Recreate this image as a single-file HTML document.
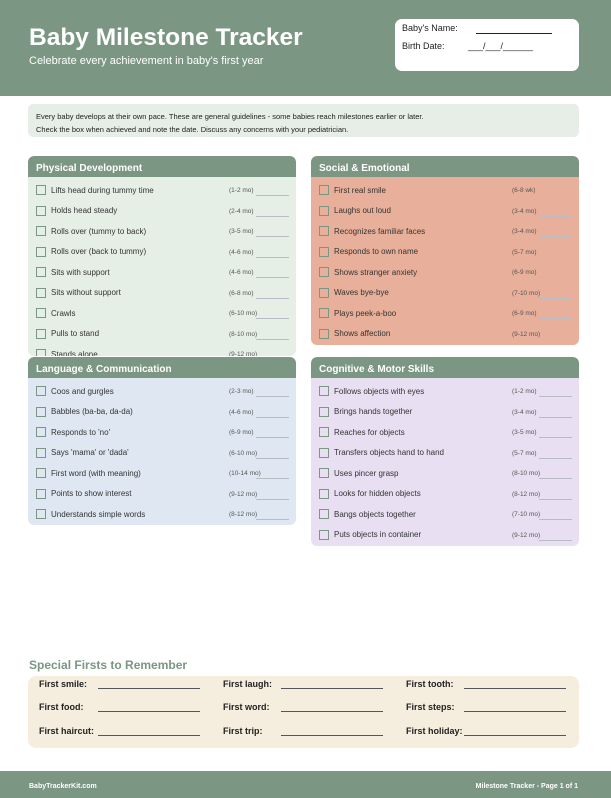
<!DOCTYPE html>
<html><head><meta charset="utf-8"><style>
*{margin:0;padding:0;box-sizing:border-box}
body{width:611px;height:798px;background:#fff;font-family:"Liberation Sans",sans-serif;position:relative;overflow:hidden}
.abs{position:absolute}
.hdr{left:0;top:0;width:611px;height:96px;background:#7b9683}
.title{left:29px;top:24px;color:#fff;font-weight:bold;font-size:24.5px}
.sub{left:29px;top:55px;color:#fff;font-size:11px}
.namebox{left:395px;top:19px;width:184px;height:52px;background:#fff;border-radius:7px;font-size:9px;color:#222}
.info{left:28px;top:104px;width:551px;height:33px;background:#e6eee7;border-radius:5px;font-size:7.5px;color:#222;padding:6px 0 0 8px;line-height:13px}
.sec{position:absolute;width:268px;border-radius:6px;overflow:hidden}
.sh{height:21px;background:#7b9683;color:#fff;font-weight:bold;font-size:10px;padding:6.5px 0 0 8px;border-radius:6px 6px 0 0}
.row{position:relative;height:20.5px;font-size:8px;color:#333}
.cb{position:absolute;left:8px;top:5px;width:10px;height:10px;border:1px solid #7b9683}
.lt{position:absolute;left:23px;top:5.5px}
.ag{position:absolute;left:201px;top:7px;font-size:6.5px;color:#555}
.ln{position:absolute;left:228px;top:15px;width:33px;border-bottom:1px solid #b8bcc4}
.sf{left:28px;top:676px;width:551px;height:72px;background:#f5eedf;border-radius:8px}
.sfl{position:absolute;font-size:9px;font-weight:bold;color:#222}
.sfu{position:absolute;border-bottom:1px solid #555;width:102px}
.ftr{left:0;top:771px;width:611px;height:27px;background:#7b9683;color:#fff;font-size:7px;font-weight:bold}
</style></head><body>
<div class="abs hdr"></div>
<div class="abs title">Baby Milestone Tracker</div>
<div class="abs sub">Celebrate every achievement in baby's first year</div>
<div class="abs namebox">
<div class="abs" style="left:7px;top:4px">Baby's Name:</div>
<div class="abs" style="left:81px;top:14px;width:76px;border-bottom:1px solid #222"></div>
<div class="abs" style="left:7px;top:22px">Birth Date:</div>
<div class="abs" style="left:73px;top:22px">___/___/______</div>
</div>
<div class="abs info">Every baby develops at their own pace. These are general guidelines - some babies reach milestones earlier or later.<br>Check the box when achieved and note the date. Discuss any concerns with your pediatrician.</div>

<div class="sec" style="left:28px;top:156px;height:200px;background:#e6efe6">
<div class="sh">Physical Development</div><div style="height:3px"></div>
<div class="row"><div class="cb"></div><div class="lt">Lifts head during tummy time</div><div class="ag">(1-2 mo)</div><div class="ln"></div></div>
<div class="row"><div class="cb"></div><div class="lt">Holds head steady</div><div class="ag">(2-4 mo)</div><div class="ln"></div></div>
<div class="row"><div class="cb"></div><div class="lt">Rolls over (tummy to back)</div><div class="ag">(3-5 mo)</div><div class="ln"></div></div>
<div class="row"><div class="cb"></div><div class="lt">Rolls over (back to tummy)</div><div class="ag">(4-6 mo)</div><div class="ln"></div></div>
<div class="row"><div class="cb"></div><div class="lt">Sits with support</div><div class="ag">(4-6 mo)</div><div class="ln"></div></div>
<div class="row"><div class="cb"></div><div class="lt">Sits without support</div><div class="ag">(6-8 mo)</div><div class="ln"></div></div>
<div class="row"><div class="cb"></div><div class="lt">Crawls</div><div class="ag">(6-10 mo)</div><div class="ln"></div></div>
<div class="row"><div class="cb"></div><div class="lt">Pulls to stand</div><div class="ag">(8-10 mo)</div><div class="ln"></div></div>
<div class="row"><div class="cb"></div><div class="lt">Stands alone</div><div class="ag">(9-12 mo)</div><div class="ln"></div></div>
</div>

<div class="sec" style="left:311px;top:156px;height:189px;background:#e8b09a">
<div class="sh">Social &amp; Emotional</div><div style="height:3px"></div>
<div class="row"><div class="cb"></div><div class="lt">First real smile</div><div class="ag">(6-8 wk)</div><div class="ln"></div></div>
<div class="row"><div class="cb"></div><div class="lt">Laughs out loud</div><div class="ag">(3-4 mo)</div><div class="ln"></div></div>
<div class="row"><div class="cb"></div><div class="lt">Recognizes familiar faces</div><div class="ag">(3-4 mo)</div><div class="ln"></div></div>
<div class="row"><div class="cb"></div><div class="lt">Responds to own name</div><div class="ag">(5-7 mo)</div><div class="ln"></div></div>
<div class="row"><div class="cb"></div><div class="lt">Shows stranger anxiety</div><div class="ag">(6-9 mo)</div><div class="ln"></div></div>
<div class="row"><div class="cb"></div><div class="lt">Waves bye-bye</div><div class="ag">(7-10 mo)</div><div class="ln"></div></div>
<div class="row"><div class="cb"></div><div class="lt">Plays peek-a-boo</div><div class="ag">(6-9 mo)</div><div class="ln"></div></div>
<div class="row"><div class="cb"></div><div class="lt">Shows affection</div><div class="ag">(9-12 mo)</div><div class="ln"></div></div>
</div>

<div class="sec" style="left:28px;top:357px;height:168px;background:#dfe8f2">
<div class="sh">Language &amp; Communication</div><div style="height:3px"></div>
<div class="row"><div class="cb"></div><div class="lt">Coos and gurgles</div><div class="ag">(2-3 mo)</div><div class="ln"></div></div>
<div class="row"><div class="cb"></div><div class="lt">Babbles (ba-ba, da-da)</div><div class="ag">(4-6 mo)</div><div class="ln"></div></div>
<div class="row"><div class="cb"></div><div class="lt">Responds to 'no'</div><div class="ag">(6-9 mo)</div><div class="ln"></div></div>
<div class="row"><div class="cb"></div><div class="lt">Says 'mama' or 'dada'</div><div class="ag">(6-10 mo)</div><div class="ln"></div></div>
<div class="row"><div class="cb"></div><div class="lt">First word (with meaning)</div><div class="ag">(10-14 mo)</div><div class="ln"></div></div>
<div class="row"><div class="cb"></div><div class="lt">Points to show interest</div><div class="ag">(9-12 mo)</div><div class="ln"></div></div>
<div class="row"><div class="cb"></div><div class="lt">Understands simple words</div><div class="ag">(8-12 mo)</div><div class="ln"></div></div>
</div>

<div class="sec" style="left:311px;top:357px;height:189px;background:#e8e0f2">
<div class="sh">Cognitive &amp; Motor Skills</div><div style="height:3px"></div>
<div class="row"><div class="cb"></div><div class="lt">Follows objects with eyes</div><div class="ag">(1-2 mo)</div><div class="ln"></div></div>
<div class="row"><div class="cb"></div><div class="lt">Brings hands together</div><div class="ag">(3-4 mo)</div><div class="ln"></div></div>
<div class="row"><div class="cb"></div><div class="lt">Reaches for objects</div><div class="ag">(3-5 mo)</div><div class="ln"></div></div>
<div class="row"><div class="cb"></div><div class="lt">Transfers objects hand to hand</div><div class="ag">(5-7 mo)</div><div class="ln"></div></div>
<div class="row"><div class="cb"></div><div class="lt">Uses pincer grasp</div><div class="ag">(8-10 mo)</div><div class="ln"></div></div>
<div class="row"><div class="cb"></div><div class="lt">Looks for hidden objects</div><div class="ag">(8-12 mo)</div><div class="ln"></div></div>
<div class="row"><div class="cb"></div><div class="lt">Bangs objects together</div><div class="ag">(7-10 mo)</div><div class="ln"></div></div>
<div class="row"><div class="cb"></div><div class="lt">Puts objects in container</div><div class="ag">(9-12 mo)</div><div class="ln"></div></div>
</div>

<div class="abs" style="left:29px;top:658px;font-size:12px;font-weight:bold;color:#7b9683">Special Firsts to Remember</div>
<div class="abs sf">
<div class="sfl" style="left:11px;top:3px">First smile:</div><div class="sfu" style="left:70px;top:12px"></div>
<div class="sfl" style="left:195px;top:3px">First laugh:</div><div class="sfu" style="left:253px;top:12px"></div>
<div class="sfl" style="left:378px;top:3px">First tooth:</div><div class="sfu" style="left:436px;top:12px"></div>
<div class="sfl" style="left:11px;top:26px">First food:</div><div class="sfu" style="left:70px;top:35px"></div>
<div class="sfl" style="left:195px;top:26px">First word:</div><div class="sfu" style="left:253px;top:35px"></div>
<div class="sfl" style="left:378px;top:26px">First steps:</div><div class="sfu" style="left:436px;top:35px"></div>
<div class="sfl" style="left:11px;top:50px">First haircut:</div><div class="sfu" style="left:70px;top:59px"></div>
<div class="sfl" style="left:195px;top:50px">First trip:</div><div class="sfu" style="left:253px;top:59px"></div>
<div class="sfl" style="left:378px;top:50px">First holiday:</div><div class="sfu" style="left:436px;top:59px"></div>
</div>
<div class="abs ftr"><div class="abs" style="left:29px;top:12px">BabyTrackerKit.com</div><div class="abs" style="right:33px;top:12px">Milestone Tracker - Page 1 of 1</div></div>
</body></html>
